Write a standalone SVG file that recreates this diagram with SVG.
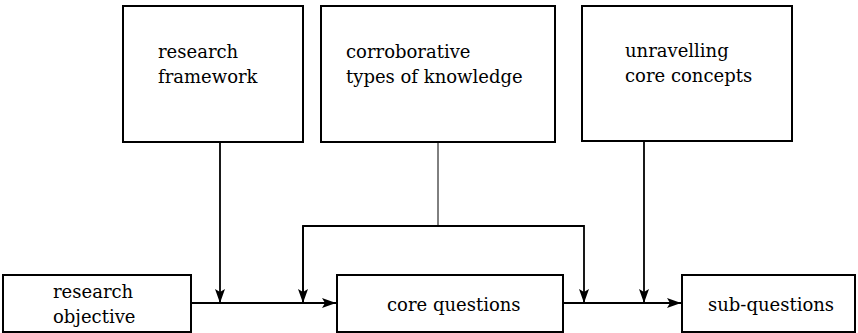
<svg xmlns="http://www.w3.org/2000/svg" width="858" height="333" viewBox="0 0 858 333">
  <style>
    .box { fill: #fff; stroke: #000; stroke-width: 2; }
    .lbl { font-family: "DejaVu Serif", "Liberation Serif", serif; font-size: 18px; fill: #000; }
    .line { fill: none; stroke: #000; stroke-width: 1.8; }
    .thin { fill: none; stroke: #000; stroke-width: 1; }
  </style>
  <defs>
    <marker id="arrow" viewBox="0 0 14 10" refX="14" refY="5" markerWidth="14" markerHeight="10" markerUnits="userSpaceOnUse" orient="auto">
      <path d="M0,0 L14,5 L0,10 L3,5 Z" fill="#000"/>
    </marker>
  </defs>
  <rect width="858" height="333" fill="#fff"/>

  <g id="connectors">
    <!-- main flow -->
    <line class="line" x1="191" y1="303" x2="336" y2="303" marker-end="url(#arrow)"/>
    <line class="line" x1="563" y1="303" x2="681" y2="303" marker-end="url(#arrow)"/>
    <!-- research framework feed -->
    <line class="line" x1="220" y1="142" x2="220" y2="303" marker-end="url(#arrow)"/>
    <!-- corroborative types of knowledge feed -->
    <line class="thin" x1="438" y1="142" x2="438" y2="226"/>
    <polyline class="line" points="303,303 303,226 584,226 584,303" marker-end="url(#arrow)"/>
    <line class="line" x1="303" y1="226" x2="303" y2="303" marker-end="url(#arrow)"/>
    <!-- unravelling core concepts feed -->
    <line class="line" x1="644" y1="142" x2="644" y2="303" marker-end="url(#arrow)"/>
  </g>

  <g id="research-framework">
    <rect class="box" x="123" y="6" width="180" height="136"/>
    <text class="lbl" x="158" y="58">research</text>
    <text class="lbl" x="158" y="83">framework</text>
  </g>

  <g id="corroborative-knowledge">
    <rect class="box" x="321" y="6" width="234" height="136"/>
    <text class="lbl" x="346" y="58">corroborative</text>
    <text class="lbl" x="346" y="83">types of knowledge</text>
  </g>

  <g id="unravelling-concepts">
    <rect class="box" x="582" y="6" width="210" height="135"/>
    <text class="lbl" x="625" y="57">unravelling</text>
    <text class="lbl" x="625" y="82">core concepts</text>
  </g>

  <g id="research-objective">
    <rect class="box" x="3" y="275" width="188" height="57"/>
    <text class="lbl" x="53" y="298">research</text>
    <text class="lbl" x="53" y="323">objective</text>
  </g>

  <g id="core-questions">
    <rect class="box" x="337" y="275" width="226" height="57"/>
    <text class="lbl" x="387" y="311">core questions</text>
  </g>

  <g id="sub-questions">
    <rect class="box" x="682" y="275" width="173" height="57"/>
    <text class="lbl" x="708" y="311">sub-questions</text>
  </g>
</svg>
